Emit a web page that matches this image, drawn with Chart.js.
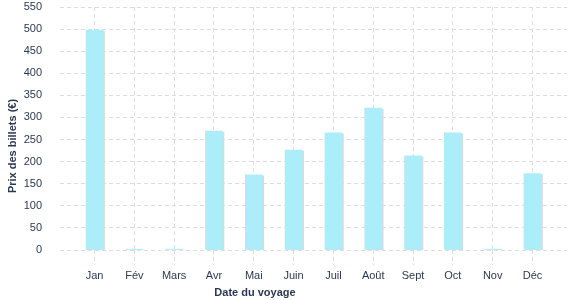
<!DOCTYPE html>
<html>
<head>
<meta charset="utf-8">
<script src="https://cdn.jsdelivr.net/npm/chart.js@4"></script>
<style>
  html, body { margin: 0; padding: 0; background: #fff; }
  #wrap { width: 577px; height: 300px; }
</style>
</head>
<body>
<div id="wrap"><canvas id="chart"></canvas></div>
<script>
// ===== DATA =====
const months = ['Jan', 'Fév', 'Mars', 'Avr', 'Mai', 'Juin', 'Juil', 'Août', 'Sept', 'Oct', 'Nov', 'Déc'];
const prices = [498, 2, 2, 269, 170, 226, 265, 321, 213, 265, 2, 173];
const yTicks = [0, 50, 100, 150, 200, 250, 300, 350, 400, 450, 500, 550];

const textColor = '#2b3950';
const gridColor = '#dddddd';
const fontFamily = '"Liberation Sans", Arial, sans-serif';

// axis titles sit off-centre in the original, drawn by hand
const axisTitles = {
  id: 'axisTitles',
  afterDraw(chart) {
    const ctx = chart.ctx;
    ctx.save();
    ctx.fillStyle = textColor;
    ctx.font = 'bold 11px ' + fontFamily;
    ctx.textAlign = 'center';
    ctx.textBaseline = 'middle';
    ctx.fillText('Date du voyage', 255, 293);
    ctx.translate(13, 146);
    ctx.rotate(-Math.PI / 2);
    ctx.fillText('Prix des billets (€)', 0, 0);
    ctx.restore();
  }
};

// faint grey drop shadow to the right of each bar
const barShadow = {
  id: 'barShadow',
  beforeDatasetsDraw(chart) {
    const ctx = chart.ctx;
    ctx.save();
    ctx.shadowColor = '#dadada';
    ctx.shadowOffsetX = 1.5;
    ctx.shadowOffsetY = 1;
    ctx.shadowBlur = 0;
  },
  afterDatasetsDraw(chart) { chart.ctx.restore(); }
};

new Chart(document.getElementById('chart'), {
  type: 'bar',
  data: {
    labels: months,
    datasets: [{
      data: prices,
      backgroundColor: '#abeef9',
      borderWidth: 0,
      barThickness: 17
    }]
  },
  options: {
    responsive: true,
    maintainAspectRatio: false,
    animation: false,
    layout: { padding: { left: 0, right: 10, top: 7, bottom: 0 } },
    plugins: { legend: { display: false }, tooltip: { enabled: false } },
    scales: {
      x: {
        offset: true,
        grid: { offset: false, color: gridColor, tickColor: gridColor, tickLength: 15, tickBorderDash: [4, 3] },
        border: { display: false, dash: [4, 3] },
        ticks: { color: textColor, padding: 4, font: { family: fontFamily, size: 11 } },
        afterFit: s => { s.height = 50; },
        afterBuildTicks: s => {
          // leave a little extra room either side of the first and last month
          const extra = 0.367;
          s._startValue = -0.5 - extra;
          s._valueRange = months.length + 2 * extra;
        }
      },
      y: {
        min: 0,
        max: 550,
        afterBuildTicks: s => { s.ticks = yTicks.map(v => ({ value: v })); },
        grid: { color: gridColor, drawTicks: false },
        border: { display: false, dash: [4, 3] },
        ticks: { color: textColor, padding: 18, font: { family: fontFamily, size: 11 } },
        afterFit: s => { s.width = 60; s.paddingTop = 7; s.paddingBottom = 0; }
      }
    }
  },
  plugins: [barShadow, axisTitles]
});
</script>
</body>
</html>
